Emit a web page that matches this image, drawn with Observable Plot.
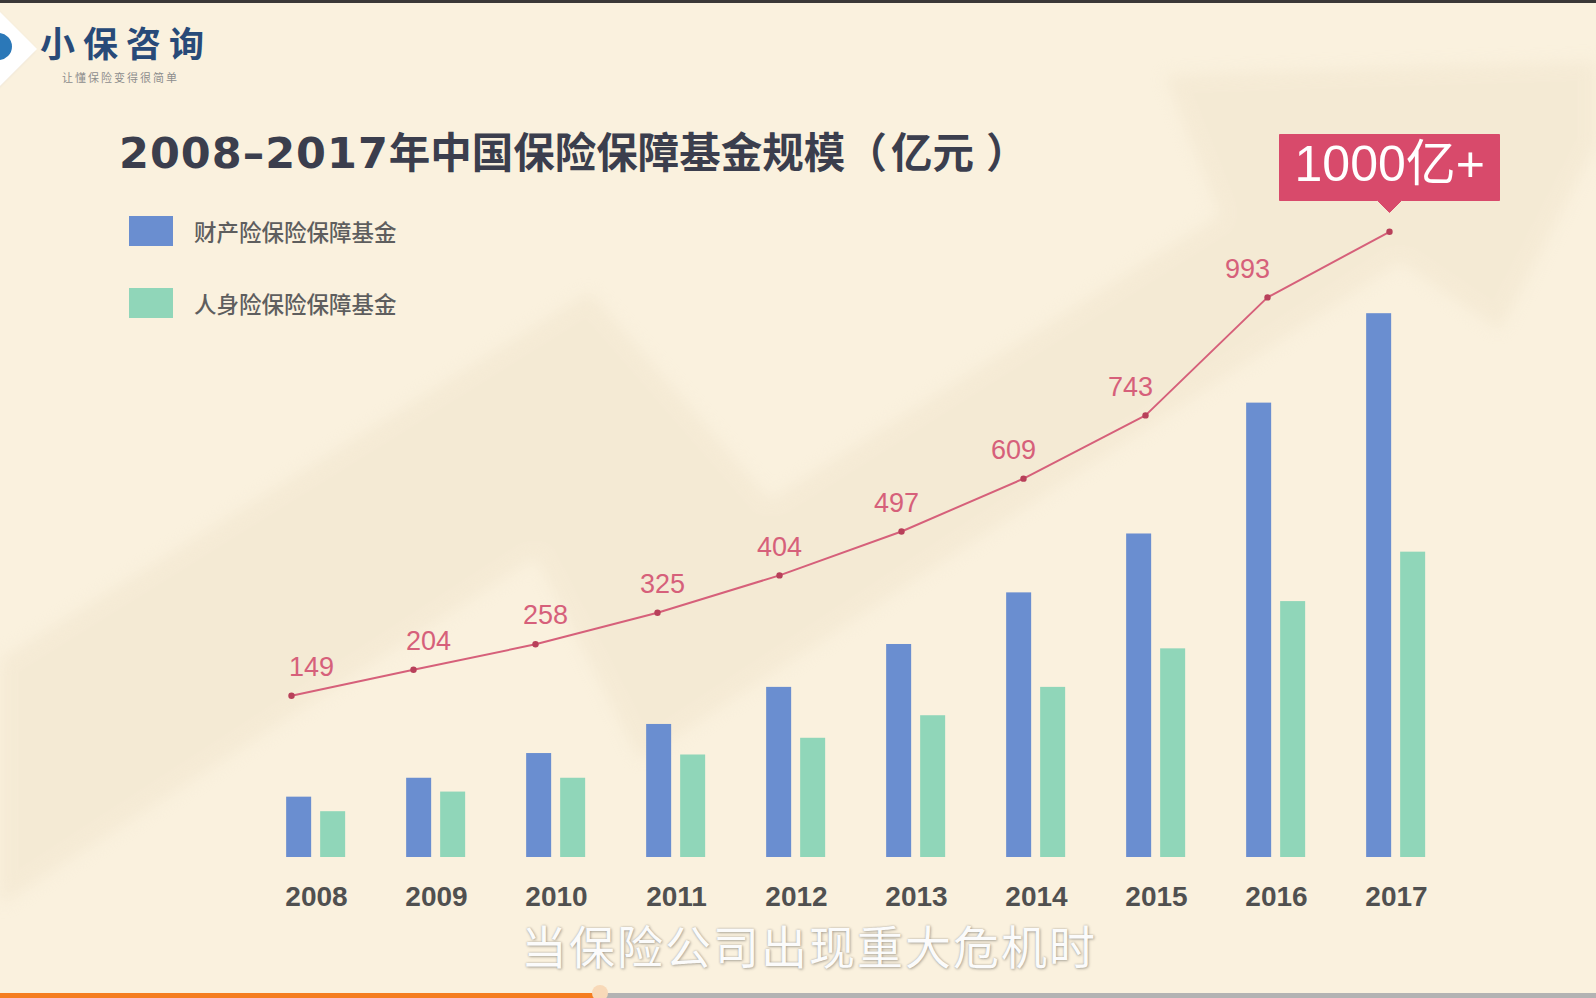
<!DOCTYPE html>
<html>
<head>
<meta charset="utf-8">
<script src="https://cdn.jsdelivr.net/npm/d3@7"></script>
<script src="https://cdn.jsdelivr.net/npm/@observablehq/plot@0.6"></script>
<style>
  html, body { margin: 0; padding: 0; background: #f9f0dc; }
  #stage { position: relative; width: 1596px; height: 998px; background: #faf1de; overflow: hidden; font-family: "Noto Sans CJK SC", sans-serif; }
  #bgWrap { position: absolute; left: 0; top: 0; width: 1596px; height: 998px; filter: blur(8px); opacity: 0.5; }
  #bgArrow { position: absolute; left: 0; top: 0; width: 1596px; height: 998px; background: #f0e4cc;
     clip-path: polygon(0px 660px, 590px 292px, 770px 500px, 1220px 215px, 1165px 75px, 1640px 60px, 1500px 330px, 1400px 262px, 640px 760px, 536px 557px, 0px 905px); }
  .layer { position: absolute; left: 0; top: 0; pointer-events: none; }
  .layer svg { display: block; }
  #topstrip { position: absolute; left: 0; top: 0; width: 1596px; height: 3px; background: #3a3837; }
  #diamond { position: absolute; left: -33px; top: 20px; width: 58px; height: 58px; background: #ffffff; transform: rotate(45deg); box-shadow: -2px 3px 4px rgba(40,70,130,0.35); }
  #logoDot { position: absolute; left: -15px; top: 33px; width: 27px; height: 27px; border-radius: 50%; background: #2b78b8; }
  #logoText { position: absolute; left: 40px; top: 24px; font-size: 35px; font-weight: 700; letter-spacing: 8px; color: #284a78; line-height: 1; }
  #logoSub { position: absolute; left: 62px; top: 72px; font-size: 11px; letter-spacing: 2px; color: #8d8d8d; line-height: 1; }
  #title { position: absolute; left: 119px; top: 128px; font-size: 41.5px; font-weight: 700; color: #3b3e4d; line-height: 1.1; white-space: nowrap; }
  #title .num { font-family: "DejaVu Sans", sans-serif; font-size: 43px; letter-spacing: 1px; }
  #title .open { margin-right: 4px; }
  #title .close { margin-left: 12px; }
  #legend { position: absolute; left: 129px; top: 215px; }
  .lg-swatch { margin-bottom: 39px !important; font-size: 22.5px; color: #5e5e5e; font-family: "Noto Sans CJK SC", sans-serif; font-weight: 500; }
  .lg-swatch svg { margin-right: 21px !important; }
  #subtitle { position: absolute; left: 0; width: 1618px; text-align: center; top: 921px; font-size: 46px; letter-spacing: 2px; color: #fbfbfb; line-height: 1;
     text-shadow: 0 0 2px rgba(90,90,90,0.45), 1px 1px 3px rgba(0,0,0,0.25); white-space: nowrap; }
  #progGrey { position: absolute; left: 600px; top: 993px; width: 996px; height: 5px; background: #b3b3b3; }
  #progOrange { position: absolute; left: 0; top: 993px; width: 600px; height: 5px; background: #f57d20; }
  #progKnob { position: absolute; left: 592px; top: 985px; width: 16px; height: 16px; border-radius: 50%; background: #f8d9b8; }
  #lineLayer g[aria-label="tip"] text, #lineLayer g[aria-label="tip"] tspan { fill: #ffffff; }
</style>
</head>
<body>
<div id="stage">
  <div id="bgWrap"><div id="bgArrow"></div></div>
  <div id="topstrip"></div>
  <div id="diamond"></div>
  <div id="logoDot"></div>
  <div id="logoText">小保咨询</div>
  <div id="logoSub">让懂保险变得很简单</div>
  <div id="title"><span class="num"></span><span class="rest"></span><span class="open"></span><span class="unit"></span><span class="close"></span></div>
  <div id="legend"></div>
  <div id="barLayer" class="layer"></div>
  <div id="lineLayer" class="layer"></div>
  <div id="labelLayer" class="layer"></div>
  <div id="subtitle"></div>
  <div id="progGrey"></div>
  <div id="progOrange"></div>
  <div id="progKnob"></div>
</div>
<script>
// ---- data ----
const titleYears = "2008–2017";
const titleRest = "年中国保险保障基金规模";
const titleUnit = "（亿元）";
const subtitleText = "当保险公司出现重大危机时";
const years = ["2008", "2009", "2010", "2011", "2012", "2013", "2014", "2015", "2016", "2017"];
const seriesNames = ["财产险保险保障基金", "人身险保险保障基金"];
const propertyFund = [83, 109, 143, 183, 234, 293, 364, 445, 625, 748];
const lifeFund = [63, 90, 109, 141, 164, 195, 234, 287, 352, 420];
const totalFund = [149, 204, 258, 325, 404, 497, 609, 743, 993, 1132];
const calloutText = "1000亿+";
const seriesColors = ["#6a8ed0", "#90d6b9"];

document.querySelector("#title .num").textContent = titleYears;
document.querySelector("#title .rest").textContent = titleRest;
document.querySelector("#title .open").textContent = titleUnit.slice(0, 1);
document.querySelector("#title .unit").textContent = titleUnit.slice(1, -1);
document.querySelector("#title .close").textContent = titleUnit.slice(-1);
document.getElementById("subtitle").textContent = subtitleText;

const W = 1596, H = 998;

// ---- bars ----
const barData = years.flatMap((y, i) => [
  {year: y, series: seriesNames[0], value: propertyFund[i]},
  {year: y, series: seriesNames[1], value: lifeFund[i]}
]);

const barPlot = Plot.plot({
  width: W, height: H,
  marginLeft: 282.85, marginRight: 167.45, marginTop: 130, marginBottom: 141,
  style: {background: "transparent", color: "#505050", fontFamily: "'Liberation Sans', Arial, sans-serif", fontSize: "28px", fontWeight: "bold", overflow: "visible"},
  fx: {domain: years, paddingInner: 0.5, paddingOuter: 0, label: null},
  x: {domain: seriesNames, axis: null, paddingInner: 0.266, paddingOuter: 0},
  y: {domain: [0, 1000], axis: null},
  color: {domain: seriesNames, range: seriesColors},
  marks: [
    Plot.barY(barData, {fx: "year", x: "series", y: "value", fill: "series"}),
    Plot.axisFx({anchor: "bottom", tickSize: 0, tickPadding: 29, label: null})
  ]
});
document.getElementById("barLayer").append(barPlot);

// ---- legend ----
const legend = Plot.legend({
  color: {domain: seriesNames, range: seriesColors},
  swatchWidth: 44, swatchHeight: 30, columns: 1, className: "lg"
});
document.getElementById("legend").append(legend);

// ---- total line ----
const lineData = years.map((y, i) => ({year: y, total: totalFund[i]}));
const linePlot = Plot.plot({
  width: W, height: H,
  marginLeft: 291.2, marginRight: 206.8, marginTop: 293.6, marginBottom: 232.4,
  style: {background: "transparent", overflow: "visible"},
  x: {type: "point", domain: years, axis: null, padding: 0},
  y: {domain: [0, 1000], axis: null},
  marks: [
    Plot.line(lineData, {x: "year", y: "total", stroke: "#d6607a", strokeWidth: 2}),
    Plot.dot(lineData, {x: "year", y: "total", r: 3.2, fill: "#b8405a"}),
    Plot.tip(lineData.slice(-1), {
      x: "year", y: "total", title: () => "\u2009" + calloutText + "\u2009", anchor: "bottom", dy: -19,
      fill: "#d84a6b", stroke: "#d84a6b", strokeWidth: 1, pathFilter: "none",
      fontSize: 50, fontFamily: "'Liberation Sans', 'Noto Sans CJK SC', sans-serif",
      textPadding: 5, pointerSize: 24
    })
  ]
});
document.getElementById("lineLayer").append(linePlot);

// ---- value labels ----
const labelData = lineData.slice(0, 9);
const labelPlot = Plot.plot({
  width: W, height: H,
  marginLeft: 308.4, marginRight: 229.2, marginTop: 293.6, marginBottom: 232.4,
  style: {background: "transparent", overflow: "visible"},
  x: {type: "point", domain: years, axis: null, padding: 0},
  y: {domain: [0, 1000], axis: null},
  marks: [
    Plot.text(labelData, {x: "year", y: "total", text: d => String(d.total), dy: -28.5,
      fill: "#d6607a", fontSize: 27, fontFamily: "'Liberation Sans', Arial, sans-serif"})
  ]
});
document.getElementById("labelLayer").append(labelPlot);
</script>
</body>
</html>
